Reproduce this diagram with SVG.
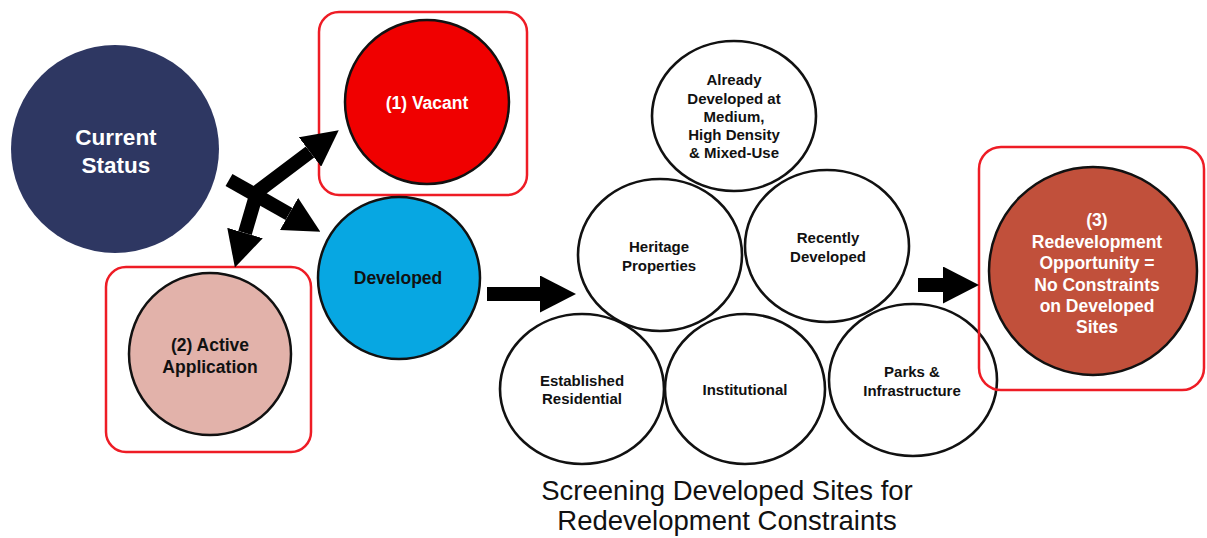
<svg xmlns="http://www.w3.org/2000/svg" width="1207" height="538" viewBox="0 0 1207 538">
  <style>
    .frame { fill: none; stroke: #ee1c25; stroke-width: 2.5; }
    .status { stroke: #111; stroke-width: 2.5; }
    .screen { fill: none; stroke: #111; stroke-width: 2.6; }
    .lbl { font-family: "Liberation Sans", Arial, sans-serif; font-weight: bold; text-anchor: middle; dominant-baseline: central; }
    .lbl-s { font-size: 15px; fill: #111; }
    .lbl-m { font-size: 17.5px; }
    .white { fill: #fff; }
    .dark { fill: #111; }
    .caption { font-family: "Liberation Sans", Arial, sans-serif; font-size: 27.5px; fill: #111; text-anchor: middle; }
    .shaft { fill: none; stroke: #000; stroke-width: 14; stroke-linejoin: round; }
  </style>
  <defs>
    <marker id="head" viewBox="0 0 36 37" refX="0" refY="18.5" markerWidth="36" markerHeight="37" markerUnits="userSpaceOnUse" orient="auto-start-reverse">
      <path d="M0,0 L36,18.5 L0,37 z" fill="#000"/>
    </marker>
  </defs>

  <rect width="1207" height="538" fill="#fff"/>

  <!-- current status -->
  <g id="current-status">
    <circle cx="115" cy="149" r="104" fill="#2e3762"/>
    <text class="lbl white" font-size="22.5" x="116" y="137">Current</text>
    <text class="lbl white" font-size="22.5" x="116" y="165">Status</text>
  </g>

  <!-- (1) vacant -->
  <g id="vacant">
    <rect class="frame" x="319" y="12" width="208" height="183" rx="20"/>
    <circle class="status" cx="427" cy="102" r="82" fill="#f00000"/>
    <text class="lbl lbl-m white" x="427" y="103">(1) Vacant</text>
  </g>

  <!-- developed -->
  <g id="developed">
    <circle class="status" cx="399" cy="278" r="81" fill="#07a7e2"/>
    <text class="lbl lbl-m dark" x="398" y="278">Developed</text>
  </g>

  <!-- (2) active application -->
  <g id="active-application">
    <rect class="frame" x="106" y="267" width="205" height="185" rx="20"/>
    <circle class="status" cx="210" cy="354" r="81" fill="#e2b2aa"/>
    <text class="lbl lbl-m dark" x="210" y="345">(2) Active</text>
    <text class="lbl lbl-m dark" x="210" y="367">Application</text>
  </g>

  <!-- screening constraints cluster -->
  <g id="already-developed">
    <ellipse class="screen" cx="734" cy="116" rx="82" ry="75"/>
    <text class="lbl lbl-s" x="734" y="79">Already</text>
    <text class="lbl lbl-s" x="734" y="98">Developed at</text>
    <text class="lbl lbl-s" x="734" y="116">Medium,</text>
    <text class="lbl lbl-s" x="734" y="134">High Density</text>
    <text class="lbl lbl-s" x="734" y="152">&amp; Mixed-Use</text>
  </g>
  <g id="heritage">
    <ellipse class="screen" cx="660" cy="255" rx="82" ry="76"/>
    <text class="lbl lbl-s" x="659" y="246">Heritage</text>
    <text class="lbl lbl-s" x="659" y="265">Properties</text>
  </g>
  <g id="recently-developed">
    <ellipse class="screen" cx="827" cy="246" rx="82" ry="76"/>
    <text class="lbl lbl-s" x="828" y="237">Recently</text>
    <text class="lbl lbl-s" x="828" y="256">Developed</text>
  </g>
  <g id="established-residential">
    <ellipse class="screen" cx="582" cy="389" rx="82" ry="75"/>
    <text class="lbl lbl-s" x="582" y="380">Established</text>
    <text class="lbl lbl-s" x="582" y="398">Residential</text>
  </g>
  <g id="institutional">
    <ellipse class="screen" cx="745" cy="389" rx="80" ry="75"/>
    <text class="lbl lbl-s" x="745" y="389">Institutional</text>
  </g>
  <g id="parks-infrastructure">
    <ellipse class="screen" cx="913" cy="380" rx="84" ry="76"/>
    <text class="lbl lbl-s" x="912" y="371">Parks &amp;</text>
    <text class="lbl lbl-s" x="912" y="390">Infrastructure</text>
  </g>

  <!-- (3) redevelopment opportunity -->
  <g id="redevelopment-opportunity">
    <rect class="frame" x="979" y="147" width="225" height="243" rx="22"/>
    <circle class="status" cx="1093" cy="271" r="104" fill="#c1503b"/>
    <text class="lbl lbl-m white" x="1097" y="220">(3)</text>
    <text class="lbl lbl-m white" x="1097" y="242">Redevelopment</text>
    <text class="lbl lbl-m white" x="1097" y="263">Opportunity =</text>
    <text class="lbl lbl-m white" x="1097" y="285">No Constraints</text>
    <text class="lbl lbl-m white" x="1097" y="306">on Developed</text>
    <text class="lbl lbl-m white" x="1097" y="327">Sites</text>
  </g>

  <!-- caption -->
  <g id="caption">
    <text class="caption" x="727" y="500">Screening Developed Sites for</text>
    <text class="caption" x="727" y="530">Redevelopment Constraints</text>
  </g>

  <!-- connectors: shafts end at the arrowhead base, markers add the heads -->
  <g id="connectors">
    <path class="shaft" d="M229,180 L289,214" marker-end="url(#head)"/>
    <path class="shaft" d="M245,233 L257,192 L310,152" marker-start="url(#head)" marker-end="url(#head)"/>
    <path class="shaft" stroke-width="15" d="M487,294 L540,294" marker-end="url(#head)"/>
    <path class="shaft" d="M918,285 L943,285" marker-end="url(#head)"/>
  </g>
</svg>
